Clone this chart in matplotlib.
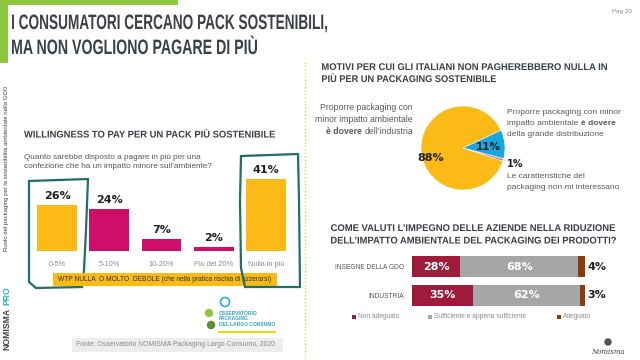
import numpy as np
import matplotlib
matplotlib.use("Agg")
import matplotlib.pyplot as plt
from matplotlib.patches import Rectangle, Polygon, PathPatch
from matplotlib.textpath import TextPath
from matplotlib.font_manager import FontProperties
from matplotlib.transforms import Affine2D

plt.rcParams['font.family'] = ['Liberation Sans', 'DejaVu Sans']

# data
wtp_cats = ['0-5%', '5-10%', '10-20%', 'Più del 20%', 'Nulla in più']
wtp_vals = [26, 24, 7, 2, 41]

pie_vals = [88, 1, 11]

eval_rows = ['INSEGNE DELLA GDO', 'INDUSTRIA']
non_adeguato = [28, 35]
sufficiente = [68, 62]
adeguato = [4, 3]
eval_legend = ['Non adeguato', 'Sufficiente e appena sufficiente', 'Adeguato']

YELLOW = '#FBBA16'
MAGENTA = '#CE0F69'
TEAL = '#1F6F6B'
DARK = '#3B4049'
BODY = '#595959'
W, H = 640, 360

fig = plt.figure(figsize=(6.4, 3.6), dpi=100)
fig.patch.set_facecolor('white')

def px_rect(x0, y0, x1, y1):
    return [x0 / W, 1 - y1 / H, (x1 - x0) / W, (y1 - y0) / H]

# background axes in pixel coordinates
bg = fig.add_axes([0, 0, 1, 1])
bg.set_xlim(0, W)
bg.set_ylim(H, 0)
bg.axis('off')

renderer = fig.canvas.get_renderer()

def text_width(s, **kw):
    t = bg.text(0, 0, s, **kw)
    w = t.get_window_extent(renderer).width
    t.remove()
    return w

def rich_line(x, y, parts, ha='left', size=6, color=BODY):
    # parts: list of (text, weight)
    sp = text_width('x x', fontsize=size) - text_width('xx', fontsize=size)
    widths = [text_width(s, fontsize=size, fontweight=w) for s, w in parts]
    total = sum(widths) + sp * (len(parts) - 1)
    cx = x - total if ha == 'right' else x
    for (s, w), wd in zip(parts, widths):
        bg.text(cx, y, s, fontsize=size, fontweight=w, color=color, va='center', ha='left')
        cx += wd + sp

def cond_text(x, baseline, s, cap_px, width_px, color=DARK):
    # condensed bold heading, squeezed to the given width
    fp = FontProperties(family='Liberation Sans', weight='bold')
    tp = TextPath((0, 0), s, size=100, prop=fp)
    ext = tp.get_extents()
    k = cap_px / 72.0
    sx = width_px / ext.width
    tr = Affine2D().translate(-ext.x0, 0).scale(sx, -k).translate(x, baseline)
    bg.add_patch(PathPatch(tr.transform_path(tp), fc=color, lw=0))

# green header bars and title
bg.add_patch(Rectangle((0, 0), 178, 5, color='#8DC63F', lw=0))
bg.add_patch(Rectangle((0, 0), 8, 63, color='#8DC63F', lw=0))
cond_text(12, 29, 'I CONSUMATORI CERCANO PACK SOSTENIBILI,', 15, 315)
cond_text(12, 54, 'MA NON VOGLIONO PAGARE DI PIÙ', 15, 245)
bg.text(612, 11, 'Pag 20', fontsize=4.5, color='#888888', va='center')

# side texts
bg.text(7, 168, 'Ruolo del packaging per la sostenibilità ambientale nella GDO', rotation=90,
        fontsize=4.3, color=DARK, ha='center', va='center')
bg.text(7, 350, 'NOMISMA', rotation=90, fontsize=6.2, fontweight='bold',
        color=DARK, ha='center', va='bottom')
bg.text(7, 305, 'PRO', rotation=90, fontsize=6.2, fontweight='bold',
        color='#29A8E0', ha='center', va='bottom')

# dotted separator
bg.plot([305, 305], [62, 358], color='#C8DC5A', lw=1, ls=(0, (1, 1.5)))

# ---- left panel ----
cond_text(24, 137.5, 'WILLINGNESS TO PAY PER UN PACK PIÙ SOSTENIBILE', 7, 251)
bg.text(24, 162, 'Quanto sarebbe disposto a pagare in più per una\n'
        'confezione che ha un impatto minore sull\u2019ambiente?',
        fontsize=5.9, color=BODY, va='center', linespacing=1.4)

ax = fig.add_axes(px_rect(31, 163, 292, 251))
xs = np.arange(len(wtp_vals))
cols = [YELLOW, MAGENTA, MAGENTA, MAGENTA, YELLOW]
ax.bar(xs, wtp_vals, width=0.76, color=cols)
for x, v in zip(xs, wtp_vals):
    ax.annotate(f'{v}%', (x, v), xytext=(0, 3), textcoords='offset points', ha='center',
                va='bottom', fontsize=8, fontweight='bold', family='DejaVu Sans', color='#222222')
ax.set_xlim(-0.5, 4.5)
ax.set_ylim(0, 50)
ax.set_xticks(xs)
ax.set_xticklabels(wtp_cats, fontsize=5.3, color='#8C8C8C')
ax.tick_params(length=0, pad=7)
ax.set_yticks([])
for s in ax.spines.values():
    s.set_visible(False)
ax.patch.set_alpha(0)

# yellow note
bg.add_patch(Rectangle((53, 273), 224, 13, color=YELLOW, lw=0, zorder=3))
bg.text(58, 279.5, 'WTP NULLA  O MOLTO  DEBOLE (che nella pratica rischia di azzerarsi)',
        fontsize=4.8, color='#333333', va='center', zorder=4)

# hand drawn boxes
box1 = [(29, 181), (88, 179), (86, 230), (84, 270), (82, 287), (36, 288), (29, 282), (29, 181)]
box5 = [(241, 156), (298, 154), (299, 200), (300, 287), (245, 287), (241, 268), (240, 200)]
bg.add_patch(Polygon(box1, closed=True, fill=False, ec=TEAL, lw=1.6, zorder=2))
bg.add_patch(Polygon(box5, closed=True, fill=False, ec=TEAL, lw=1.6, zorder=5))

# logo stand-in
bg.add_patch(plt.Circle((225, 302), 4.5, fc='white', ec='#29A8E0', lw=1.2))
bg.add_patch(plt.Circle((209, 313), 3.5, color='#8DC63F'))
bg.add_patch(plt.Circle((211, 325), 3.5, color='#5E8E2E'))
bg.text(219, 319, 'OSSERVATORIO\nPACKAGING\nDEL LARGO CONSUMO', fontsize=3.5, fontweight='bold',
        color='#2BA3C9', va='center', linespacing=1.15)
bg.add_patch(Rectangle((218, 331), 58, 2, color='#D4E600', lw=0))

# source box
bg.add_patch(Rectangle((72, 338), 211, 14, color='#EDEDED', lw=0))
bg.text(76, 345, 'Fonte: Osservatorio NOMISMA Packaging Largo Consumo, 2020', fontsize=4.95,
        color='#8A8A8A', va='center')

# ---- right top: pie ----
cond_text(322, 70, 'MOTIVI PER CUI GLI ITALIANI NON PAGHEREBBERO NULLA IN', 7, 285)
cond_text(322, 82, 'PIÙ PER UN PACKAGING SOSTENIBILE', 7, 174)

pax = fig.add_axes(px_rect(421, 106, 505, 190))
pax.pie(pie_vals, colors=[YELLOW, '#E87A9A', '#1BA6E0'], startangle=25, counterclock=True,
        wedgeprops=dict(lw=0.4, edgecolor='white'))
pax.set_xlim(-1, 1)
pax.set_ylim(-1, 1)
pax.set_aspect('equal')
pax.text(-0.78, -0.24, f'{pie_vals[0]}%', ha='center', va='center', fontsize=8,
         fontweight='bold', family='DejaVu Sans', color='#222222')
pax.text(0.6, 0.03, f'{pie_vals[2]}%', ha='center', va='center', fontsize=7.5,
         fontweight='bold', family='DejaVu Sans', color='#222222')

rich_line(413, 108, [('Proporre packaging con', 'normal')], ha='right', size=6.2)
rich_line(413, 120, [('minor impatto ambientale', 'normal')], ha='right', size=6.2)
rich_line(413, 131, [('è dovere', 'bold'), ('dell\u2019industria', 'normal')], ha='right', size=6.2)

rich_line(507, 112, [('Proporre packaging con minor', 'normal')])
rich_line(507, 123.5, [('impatto ambientale', 'normal'), ('è dovere', 'bold')])
rich_line(507, 135, [('della grande distribuzione', 'normal')])

bg.text(507, 164, f'{pie_vals[1]}%', fontsize=7, fontweight='bold', family='DejaVu Sans',
        color='#222222', va='center')
bg.text(507, 176, 'Le caratteristiche del', fontsize=6, color=BODY, va='center')
bg.text(507, 187.5, 'packaging non mi interessano', fontsize=6, color=BODY, va='center')

# ---- right bottom: stacked bars ----
cond_text(331, 231, 'COME VALUTI L\u2019IMPEGNO DELLE AZIENDE NELLA RIDUZIONE', 7, 284)
cond_text(331, 243.5, 'DELL\u2019IMPATTO AMBIENTALE DEL PACKAGING DEI PRODOTTI?', 7, 285)

sax = fig.add_axes(px_rect(412, 252, 585, 310))
ys = np.arange(len(eval_rows))
na = np.array(non_adeguato)
su = np.array(sufficiente)
ad = np.array(adeguato)
seg_cols = ['#9E1B3B', '#A6A6A6', '#8B3A12']
sax.barh(ys, na, height=0.72, color=seg_cols[0])
sax.barh(ys, su, left=na, height=0.72, color=seg_cols[1])
sax.barh(ys, ad, left=na + su, height=0.72, color=seg_cols[2])
for y, a, b, c in zip(ys, na, su, ad):
    sax.text(a / 2, y, f'{a}%', ha='center', va='center', color='white', fontsize=8,
             fontweight='bold', family='DejaVu Sans')
    sax.text(a + b / 2, y, f'{b}%', ha='center', va='center', color='white', fontsize=8,
             fontweight='bold', family='DejaVu Sans')
    sax.annotate(f'{c}%', (100, y), xytext=(2, 0), textcoords='offset points', ha='left',
                 va='center', color='#222222', fontsize=8, fontweight='bold', family='DejaVu Sans')
sax.set_xlim(0, 100)
sax.set_ylim(1.5, -0.5)
sax.set_yticks(ys)
sax.set_yticklabels(eval_rows, fontsize=4.8, color='#555555')
sax.tick_params(length=0, pad=6)
sax.set_xticks([])
for s in sax.spines.values():
    s.set_visible(False)
sax.patch.set_alpha(0)

leg_x = [352, 428, 557]
for lx, lab, c in zip(leg_x, eval_legend, seg_cols):
    bg.add_patch(Rectangle((lx, 315), 3.5, 3.5, color=c, lw=0))
    bg.text(lx + 6, 317, lab, fontsize=4.8, color='#8C8C8C', va='center')

# nomisma mark
bg.text(608, 352, 'Nomisma', fontsize=5, family='DejaVu Serif', style='italic',
        color='#444444', ha='center', va='center')
bg.add_patch(plt.Circle((608, 342), 3, color='#555555'))

fig.savefig('out.png', dpi=100)
